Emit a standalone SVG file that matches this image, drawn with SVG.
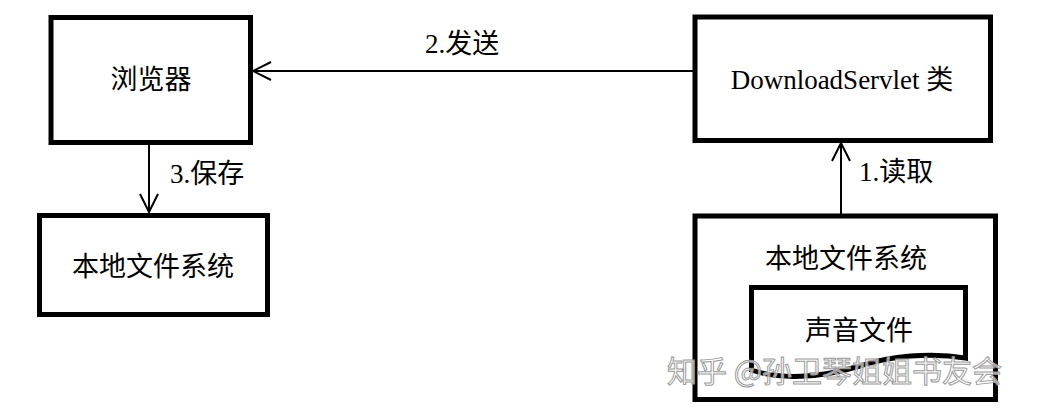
<svg xmlns="http://www.w3.org/2000/svg" width="1038" height="413" viewBox="0 0 1038 413">
<style>
.box{fill:#fff;stroke:#000;stroke-width:5;stroke-linejoin:miter}
.lbl{font-family:"Liberation Serif","Noto Sans CJK SC",serif;font-size:27px;fill:#000}
.c{text-anchor:middle}
.conn{stroke:#000;stroke-width:2;fill:none}
.wm{font-family:"Noto Sans CJK SC","Liberation Sans",sans-serif;font-size:30px;fill:#fff;fill-opacity:0.7;stroke:#9a9a9a;stroke-width:1}
</style>
<defs>
<marker id="arr" viewBox="0 0 20 20" refX="19" refY="10" markerWidth="20" markerHeight="20" markerUnits="userSpaceOnUse" orient="auto">
<path d="M1,1 L19,10 L1,19" fill="none" stroke="#000" stroke-width="2"/>
</marker>
</defs>
<rect width="1038" height="413" fill="#fff"/>
<g id="connectors">
<line class="conn" x1="694" y1="71" x2="253" y2="71" marker-end="url(#arr)"/>
<line class="conn" x1="149" y1="145" x2="149" y2="212" marker-end="url(#arr)"/>
<line class="conn" x1="841" y1="214" x2="841" y2="143" marker-end="url(#arr)"/>
<text class="lbl" x="425" y="53">2.发送</text>
<text class="lbl" x="170" y="183">3.保存</text>
<text class="lbl" x="859" y="181">1.读取</text>
</g>
<g id="browser">
<rect class="box" x="51" y="17.5" width="199.5" height="125"/>
<text class="lbl c" x="151" y="89">浏览器</text>
</g>
<g id="servlet">
<rect class="box" x="695" y="17" width="295.5" height="123.5"/>
<text class="lbl c" x="842" y="89">DownloadServlet 类</text>
</g>
<g id="local-fs-left">
<rect class="box" x="39.5" y="215.5" width="228" height="99"/>
<text class="lbl c" x="153" y="276">本地文件系统</text>
</g>
<g id="local-fs-right">
<rect class="box" x="695" y="216" width="300.5" height="183.5"/>
<text class="lbl c" x="846" y="268">本地文件系统</text>
</g>
<g id="sound-file">
<path class="box" d="M751.5,287.5 H965.5 V358 C930,352 890,356 860,366 C820,378 780,380 751.5,370 Z"/>
<text class="lbl c" x="859" y="340">声音文件</text>
</g>
<text class="wm" x="667" y="382">知乎 @孙卫琴姐姐书友会</text>
</svg>
